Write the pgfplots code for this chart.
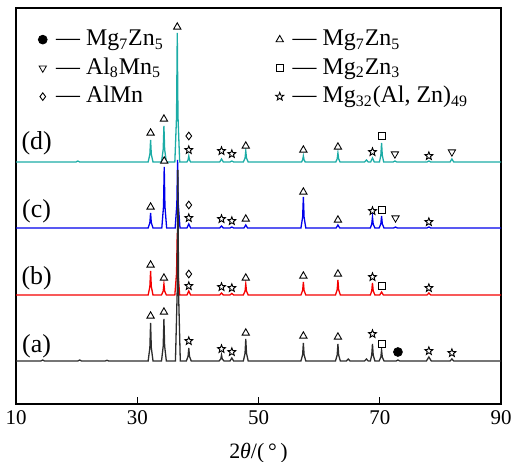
\documentclass[border=0pt]{standalone}
\usepackage{fontspec}
\setmainfont{Liberation Serif}
\usepackage{pgfplots}
\pgfplotsset{compat=1.18}
\usetikzlibrary{plotmarks}

% open five-pointed star
\pgfdeclareplotmark{pstar}{%
  \pgfpathmoveto{\pgfpointpolar{90}{\pgfplotmarksize}}%
  \pgfpathlineto{\pgfpointpolar{126}{0.42\pgfplotmarksize}}%
  \pgfpathlineto{\pgfpointpolar{162}{\pgfplotmarksize}}%
  \pgfpathlineto{\pgfpointpolar{198}{0.42\pgfplotmarksize}}%
  \pgfpathlineto{\pgfpointpolar{234}{\pgfplotmarksize}}%
  \pgfpathlineto{\pgfpointpolar{270}{0.42\pgfplotmarksize}}%
  \pgfpathlineto{\pgfpointpolar{306}{\pgfplotmarksize}}%
  \pgfpathlineto{\pgfpointpolar{342}{0.42\pgfplotmarksize}}%
  \pgfpathlineto{\pgfpointpolar{18}{\pgfplotmarksize}}%
  \pgfpathlineto{\pgfpointpolar{54}{0.42\pgfplotmarksize}}%
  \pgfpathclose
  \pgfusepathqfillstroke
}

\definecolor{patD}{RGB}{28,172,166}
\definecolor{patC}{RGB}{0,0,235}
\definecolor{patB}{RGB}{245,0,0}
\definecolor{patA}{RGB}{45,45,45}

\newcommand{\dash}{\hspace{2.5bp}—\ }

\begin{document}
\begin{tikzpicture}
\begin{axis}[
    scale only axis,
    width=242.5bp, height=198bp,
    xmin=10, xmax=90, ymin=0, ymax=396,
    xtick={10,30,50,70,90},
    ytick=\empty,
    xtick pos=bottom,
    tick align=inside,
    major tick length=3.5bp,
    axis line style={line width=0.7bp},
    every tick/.style={black, line width=0.6bp},
    tick label style={font=\fontsize{10.5}{12}\selectfont},
    /pgf/number format/assume math mode=true,
    xlabel={2\textit{θ}/(\,°\,)},
    xlabel style={font=\fontsize{11}{13}\selectfont, yshift=-2bp},
    clip=false,
    legend columns=2,
    legend cell align=left,
    legend image code/.code={\draw[#1] plot coordinates {(2bp,0bp)};},
    legend style={at={(rel axis cs:0,1)}, anchor=north west,
        xshift=8bp, yshift=-6.5bp, draw=none, fill=none,
        font=\fontsize{12}{14}\selectfont,
        nodes={text height=10bp, text depth=3.75bp, inner ysep=0.25bp},
        /tikz/every even column/.append style={column sep=54bp}},
    mk/.style={only marks, draw=black, fill=white,
        mark options={line width=0.45bp, fill=white, draw=black},
        legend image code/.code={\draw[##1] plot coordinates {(2bp,0bp)};}},
    spec/.style={line width=0.65bp, forget plot},
]

% ---- patterns, baseline offsets 43 / 109 / 176 / 242 ----
% (b)
\addplot[patB, spec] coordinates {
 (10,109) (31.8,109)(32.08,117.4)(32.2,133)(32.32,117.4)(32.6,109)
 (34.0,109)(34.28,112.9)(34.4,120)(34.52,112.9)(34.8,109)
 (36.2,109)(36.48,130.7)(36.6,171)(36.72,130.7)(37.0,109)
 (38.2,109)(38.5,113)(38.8,109)
 (43.6,109)(43.9,111)(44.2,109)
 (45.3,109)(45.6,110.5)(45.9,109)
 (47.5,109)(47.78,112.9)(47.9,120)(48.02,112.9)(48.3,109)
 (57.0,109)(57.28,113.6)(57.4,122)(57.52,113.6)(57.8,109)
 (62.7,109)(62.98,114.3)(63.1,124)(63.22,114.3)(63.5,109)
 (68.45,109)(68.68,113.2)(68.8,121)(68.92,113.2)(69.2,109)
 (70.0,109)(70.3,112)(70.6,109)
 (77.8,109)(78.1,111)(78.4,109)
 (90,109)
};
% (c)
\addplot[patC, spec] coordinates {
 (10,176) (31.8,176)(32.08,181.3)(32.2,191)(32.32,181.3)(32.6,176)
 (34.05,176)(34.33,197.3)(34.45,237)(34.57,197.3)(34.85,176)
 (36.25,176)(36.53,199.8)(36.65,244)(36.77,199.8)(37.05,176)
 (38.2,176)(38.5,180)(38.8,176)
 (43.6,176)(43.9,178)(44.2,176)
 (45.3,176)(45.6,177)(45.9,176)
 (47.6,176)(47.9,179)(48.2,176)
 (57.0,176)(57.28,186.9)(57.4,207)(57.52,186.9)(57.8,176)
 (62.8,176)(63.1,179)(63.4,176)
 (68.45,176)(68.68,179.9)(68.8,187)(68.92,179.9)(69.2,176)
 (69.9,176)(70.18,180.2)(70.3,188)(70.42,180.2)(70.7,176)
 (72.3,176)(72.6,177)(72.9,176)
 (77.8,176)(78.1,177)(78.4,176)
 (90,176)
};
% (a)
\addplot[patA, spec] coordinates {
 (10,43) (14.1,43)(14.4,44)(14.7,43)
 (20.2,43)(20.5,44)(20.8,43)
 (24.7,43)(25.0,43.7)(25.3,43)
 (31.8,43)(32.08,56.3)(32.2,81)(32.32,56.3)(32.6,43)
 (34.0,43)(34.28,57.7)(34.4,85)(34.52,57.7)(34.8,43)
 (36.3,43)(36.58,109.9)(36.7,234)(36.82,109.9)(37.1,43)
 (38.1,43)(38.38,47.6)(38.5,56)(38.62,47.6)(38.9,43)
 (43.5,43)(43.78,45.1)(43.9,49)(44.02,45.1)(44.3,43)
 (45.3,43)(45.6,46)(45.9,43)
 (47.5,43)(47.78,50.7)(47.9,65)(48.02,50.7)(48.3,43)
 (57.0,43)(57.28,49.3)(57.4,61)(57.52,49.3)(57.8,43)
 (62.7,43)(62.98,49)(63.1,60)(63.22,49)(63.5,43)
 (64.5,43)(64.8,45)(65.1,43)
 (67.5,43)(67.8,45)(68.1,43)
 (68.45,43)(68.68,49)(68.8,60)(68.92,49)(69.2,43)
 (69.9,43)(70.18,46.9)(70.3,54)(70.42,46.9)(70.7,43)
 (72.7,43)(73.0,44)(73.3,43)
 (77.7,43)(78.1,47)(78.5,43)
 (81.6,43)(81.9,45)(82.2,43)
 (90,43)
};
% (d)
\addplot[patD, spec] coordinates {
 (10,242) (19.9,242)(20.2,243)(20.5,242)
 (31.8,242)(32.08,249.7)(32.2,264)(32.32,249.7)(32.6,242)
 (34.0,242)(34.28,254.6)(34.4,278)(34.52,254.6)(34.8,242)
 (36.2,242)(36.48,287.2)(36.6,371)(36.72,287.2)(37.0,242)
 (38.2,242)(38.38,244.1)(38.5,248)(38.62,244.1)(38.8,242)
 (43.6,242)(43.9,245)(44.2,242)
 (45.3,242)(45.6,243)(45.9,242)
 (47.5,242)(47.78,245.9)(47.9,253)(48.02,245.9)(48.3,242)
 (57.1,242)(57.28,244.1)(57.4,248)(57.52,244.1)(57.7,242)
 (62.75,242)(62.98,245.2)(63.1,251)(63.22,245.2)(63.45,242)
 (67.5,242)(67.8,244)(68.1,242)
 (68.5,242)(68.8,246)(69.1,242)
 (69.95,242)(70.18,248.7)(70.3,261)(70.42,248.7)(70.65,242)
 (72.2,242)(72.5,243)(72.8,242)
 (77.8,242)(78.1,243)(78.4,242)
 (81.6,242)(81.9,245)(82.2,242)
 (90,242)
};

% ---- phase markers ----
\addplot[mk, mark=*, mark size=2.2bp, mark options={fill=black}] coordinates {
 (73.0,52)
};
\addlegendentry{\dash Mg\textsubscript{7}Zn\textsubscript{5}}
\addplot[mk, mark=triangle*, mark size=2.1bp] coordinates {
 (32.2,88)(34.4,92)(47.9,71)(57.4,68)(63.1,67)
 (32.2,139)(34.4,126)(47.9,126)(57.4,128)(63.1,130)
 (32.2,197)(34.45,243)(47.9,185)(57.4,212)(63.1,184)
 (32.2,271)(34.4,285)(36.6,377)(47.9,258)(57.4,254)(63.1,257)
};
\addlegendentry{\dash Mg\textsubscript{7}Zn\textsubscript{5}}
\addplot[mk, mark=triangle*, mark size=2.1bp, mark options={rotate=180}] coordinates {
 (72.6,186)(72.5,250)(81.9,252)
};
\addlegendentry{\dash Al\textsubscript{8}Mn\textsubscript{5}}
\addplot[mk, mark=square*, mark size=1.8bp] coordinates {
 (70.4,60)(70.4,118)(70.3,194)(70.3,268)
};
\addlegendentry{\dash Mg\textsubscript{2}Zn\textsubscript{3}}
\addplot[mk, mark=diamond*, mark size=1.9bp] coordinates {
 (38.5,130)(38.5,199)(38.5,268)
};
\addlegendentry{\dash AlMn}
\addplot[mk, mark=pstar, mark size=2.1bp] coordinates {
 (38.5,63)(43.9,55)(45.6,52)(68.8,70)(78.1,53)(81.9,51)
 (38.5,118)(43.9,117)(45.6,116)(68.8,127)(78.1,116)
 (38.5,186)(43.9,185)(45.6,183)(68.8,193)(78.1,182)
 (38.5,254)(43.9,253)(45.6,250)(68.8,252)(78.1,248)
};
\addlegendentry{\dash Mg\textsubscript{32}(Al, Zn)\textsubscript{49}}

% pattern labels
\node[font=\fontsize{13}{15}\selectfont] at (axis cs:13.4,261) {(d)};
\node[font=\fontsize{13}{15}\selectfont] at (axis cs:13.4,193) {(c)};
\node[font=\fontsize{13}{15}\selectfont] at (axis cs:13.4,126) {(b)};
\node[font=\fontsize{13}{15}\selectfont] at (axis cs:13.4,58) {(a)};

\coordinate (sw) at (rel axis cs:0,0);
\coordinate (ne) at (rel axis cs:1,1);
\end{axis}
\pgfresetboundingbox
\path[use as bounding box] ([shift={(-8bp,-29bp)}]sw) rectangle ([shift={(5bp,4bp)}]ne);
\end{tikzpicture}
\end{document}
